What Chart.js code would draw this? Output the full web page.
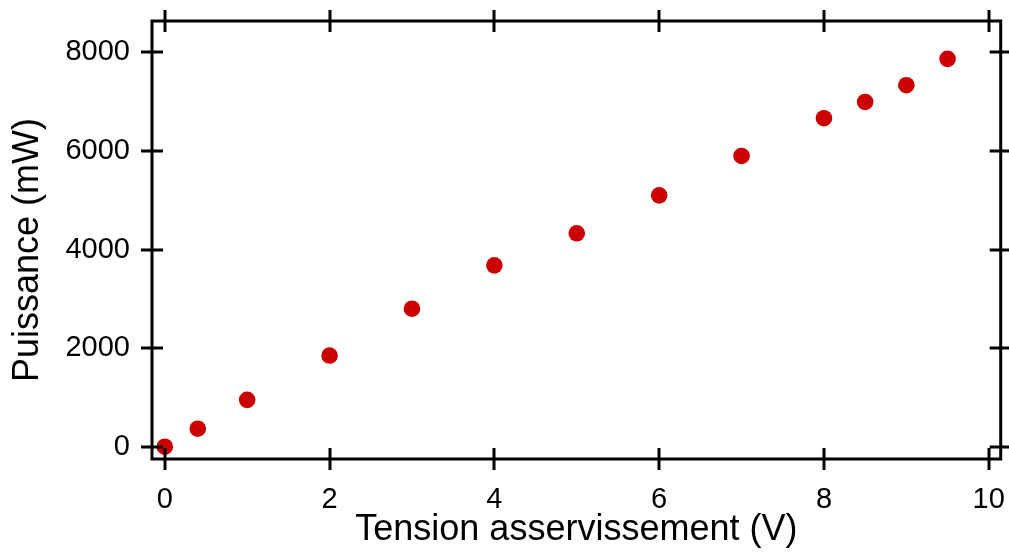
<!DOCTYPE html>
<html>
<head>
<meta charset="utf-8">
<script src="https://cdn.jsdelivr.net/npm/chart.js@4/dist/chart.umd.min.js"></script>
<style>
  html, body { margin: 0; padding: 0; background: #fff; }
  #wrap { width: 1009px; height: 552px; position: relative; }
</style>
</head>
<body>
<div id="wrap"><canvas id="chart"></canvas></div>
<script>
// Tension (V) vs puissance (mW)
const tension = [0, 0.4, 1, 2, 3, 4, 5, 6, 7, 8, 8.5, 9, 9.5];
const puissance = [0, 365, 950, 1850, 2800, 3680, 4330, 5100, 5900, 6665, 6995, 7335, 7870];
const xTicks = [0, 2, 4, 6, 8, 10];
const yTicks = [0, 2000, 4000, 6000, 8000];
const yTitle = 'Puissance (mW)';

const font = 'Liberation Sans, Arial, sans-serif';

// frame + crossing ticks on all four sides, plus the y title
const framePlugin = {
    id: 'frame',
    afterDraw(chart) {
        const { ctx, chartArea: a, scales } = chart;
        const t = 11;
        ctx.save();
        ctx.strokeStyle = '#000';
        ctx.lineWidth = 3;
        ctx.lineCap = 'square';
        ctx.strokeRect(a.left, a.top, a.right - a.left, a.bottom - a.top);
        ctx.lineCap = 'butt';
        ctx.beginPath();
        xTicks.forEach(v => {
            const x = Math.round(scales.x.getPixelForValue(v));
            ctx.moveTo(x, a.bottom - t); ctx.lineTo(x, a.bottom + t);
            ctx.moveTo(x, a.top - t); ctx.lineTo(x, a.top + t);
        });
        yTicks.forEach(v => {
            const y = Math.round(scales.y.getPixelForValue(v));
            ctx.moveTo(a.left - t, y); ctx.lineTo(a.left + t, y);
            ctx.moveTo(a.right - t, y); ctx.lineTo(a.right + t, y);
        });
        ctx.stroke();

        // y axis title, a bit below the plot centre like the original
        ctx.translate(28, (a.top + a.bottom) / 2 + 10);
        ctx.rotate(-Math.PI / 2);
        ctx.fillStyle = '#000';
        ctx.font = '36px ' + font;
        ctx.textAlign = 'center';
        ctx.textBaseline = 'middle';
        ctx.fillText(yTitle, 0, 0);
        ctx.restore();
    }
};

function noPad(s) {
    s.paddingLeft = 0; s.paddingRight = 0; s.paddingTop = 0; s.paddingBottom = 0;
}

new Chart(document.getElementById('chart'), {
    type: 'scatter',
    data: {
        datasets: [{
            data: tension.map((x, i) => ({ x: x, y: puissance[i] })),
            backgroundColor: '#cc0000',
            borderWidth: 0,
            pointRadius: 8.3,
            pointHoverRadius: 8.3
        }]
    },
    options: {
        responsive: true,
        maintainAspectRatio: false,
        animation: false,
        layout: { padding: { top: 21, right: 7, left: 0, bottom: 0 } },
        plugins: { legend: { display: false }, tooltip: { enabled: false } },
        scales: {
            x: {
                type: 'linear',
                min: -0.155,
                max: 10.145,
                afterBuildTicks: s => { s.ticks = xTicks.map(v => ({ value: v })); },
                afterFit: s => { s.height = 93; noPad(s); },
                grid: { display: false },
                border: { display: false },
                ticks: { color: '#000', font: { family: font, size: 29 }, padding: 16, maxRotation: 0, callback: v => String(v) },
                title: { display: true, text: 'Tension asservissement (V)', color: '#000', font: { family: font, size: 36 }, padding: { top: 0, bottom: 0 } }
            },
            y: {
                type: 'linear',
                min: -250,
                max: 8638,
                afterBuildTicks: s => { s.ticks = yTicks.map(v => ({ value: v })); },
                afterFit: s => { s.width = 152; noPad(s); },
                grid: { display: false },
                border: { display: false },
                ticks: { color: '#000', font: { family: font, size: 29 }, padding: 14, callback: v => String(v) },
                title: { display: false }
            }
        }
    },
    plugins: [framePlugin]
});
</script>
</body>
</html>
